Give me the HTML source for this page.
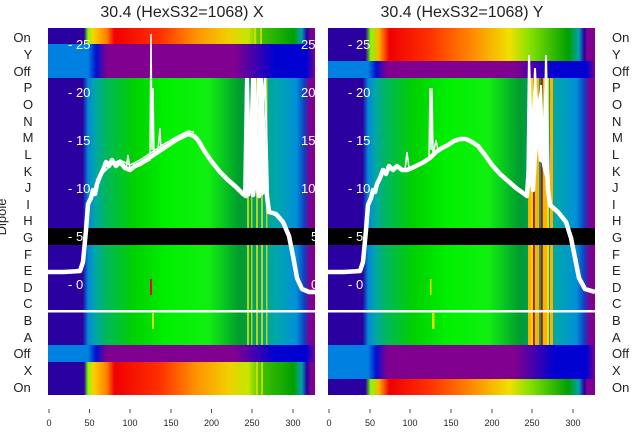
<!DOCTYPE html>
<html><head><meta charset="utf-8"><style>
html,body{margin:0;padding:0;background:#fff;width:640px;height:440px;overflow:hidden}
svg text{font-family:"Liberation Sans","DejaVu Sans",sans-serif}
</style></head><body>
<svg width="640" height="440" viewBox="0 0 640 440" xmlns="http://www.w3.org/2000/svg">
<defs>
<linearGradient id="gG" x1="0" x2="1" y1="0" y2="0">
<stop offset="0" stop-color="#2a00a0"/><stop offset="0.13" stop-color="#2a00a0"/>
<stop offset="0.15" stop-color="#0088d8"/><stop offset="0.18" stop-color="#00a8a0"/>
<stop offset="0.22" stop-color="#00b858"/><stop offset="0.32" stop-color="#00d000"/>
<stop offset="0.45" stop-color="#00f000"/><stop offset="0.6" stop-color="#10f010"/>
<stop offset="0.72" stop-color="#009a30"/><stop offset="0.78" stop-color="#00a070"/>
<stop offset="0.85" stop-color="#00a8a8"/><stop offset="0.93" stop-color="#0090d8"/>
<stop offset="0.96" stop-color="#1040c0"/><stop offset="0.98" stop-color="#800090"/>
<stop offset="1" stop-color="#800090"/>
</linearGradient>
<linearGradient id="gO" x1="0" x2="1" y1="0" y2="0">
<stop offset="0" stop-color="#2a00a0"/><stop offset="0.135" stop-color="#2a00a0"/>
<stop offset="0.15" stop-color="#80ff00"/><stop offset="0.17" stop-color="#ffd000"/>
<stop offset="0.22" stop-color="#ff8000"/><stop offset="0.25" stop-color="#f00000"/>
<stop offset="0.42" stop-color="#ff3000"/><stop offset="0.55" stop-color="#ff9000"/>
<stop offset="0.68" stop-color="#f0d000"/><stop offset="0.75" stop-color="#c0e800"/>
<stop offset="0.8" stop-color="#40c000"/><stop offset="0.92" stop-color="#00a000"/>
<stop offset="0.95" stop-color="#00a0b0"/><stop offset="0.97" stop-color="#2a00a0"/>
<stop offset="0.985" stop-color="#800090"/><stop offset="1" stop-color="#800090"/>
</linearGradient>
<linearGradient id="gP" x1="0" x2="1" y1="0" y2="0">
<stop offset="0" stop-color="#0080e0"/><stop offset="0.15" stop-color="#0080e0"/>
<stop offset="0.18" stop-color="#0010d0"/><stop offset="0.22" stop-color="#800090"/>
<stop offset="0.7" stop-color="#800090"/><stop offset="0.85" stop-color="#0000d0"/>
<stop offset="0.97" stop-color="#0000d0"/><stop offset="1" stop-color="#800090"/>
</linearGradient>
<linearGradient id="gO2" x1="0" x2="1" y1="0" y2="0">
<stop offset="0" stop-color="#2a00a0"/><stop offset="0.14" stop-color="#2a00a0"/>
<stop offset="0.16" stop-color="#80ff00"/><stop offset="0.19" stop-color="#ffb000"/>
<stop offset="0.23" stop-color="#f00000"/><stop offset="0.38" stop-color="#ff3000"/>
<stop offset="0.55" stop-color="#ff9000"/><stop offset="0.68" stop-color="#f0e000"/>
<stop offset="0.76" stop-color="#80e000"/><stop offset="0.9" stop-color="#00a000"/>
<stop offset="0.94" stop-color="#00a0b0"/><stop offset="0.96" stop-color="#2a00a0"/>
<stop offset="0.97" stop-color="#800090"/><stop offset="1" stop-color="#800090"/>
</linearGradient>
</defs>

<!-- Left panel -->
<g>
<rect x="48" y="28" width="267" height="367" fill="url(#gG)"/>
<rect x="48" y="28" width="267" height="16" fill="url(#gO)"/>
<rect x="48" y="44" width="267" height="34" fill="url(#gP)"/>
<rect x="48" y="345" width="267" height="17" fill="url(#gP)"/>
<rect x="48" y="362" width="267" height="33" fill="url(#gO)"/>
<g fill="#d8e000" opacity="0.85">
<rect x="247" y="28" width="2" height="16"/><rect x="254" y="28" width="2" height="16"/><rect x="260" y="28" width="2" height="16"/>
<rect x="247" y="78" width="2" height="267"/><rect x="251" y="78" width="1.5" height="267"/><rect x="256" y="78" width="2" height="267"/><rect x="261" y="78" width="2" height="267"/><rect x="266" y="78" width="1.5" height="267"/>
<rect x="247" y="362" width="2" height="33"/><rect x="256" y="362" width="2" height="33"/><rect x="261" y="362" width="2" height="33"/>
</g>
<rect x="150" y="279" width="2" height="16" fill="#f00000"/>
<rect x="152" y="313" width="2" height="16" fill="#e0e000"/>
<rect x="48" y="228" width="267" height="17" fill="#000"/>
<rect x="48" y="310" width="267" height="2.5" fill="#fff"/>
<polyline fill="none" stroke="#fff" stroke-width="4.5" stroke-linejoin="round" points="48,272 64,272 80,271 83,262 86,230 88,204 91,198 93,190 95,194 97,184 100,176 103,170 106,162 109,166 112,160 116,166 120,162 125,168 130,170 135,166 140,164 146,160 152,156 158,152 164,148 170,144 176,140 182,137 188,134 194,136 198,140 205,152 212,162 220,172 228,180 236,187 243,194 246,196 250,140 253,195 256,170 259,196 263,140 267,196 269,212 276,214 283,222 289,236 293,256 297,278 302,289 309,292 315,292"/>
<polyline fill="none" stroke="#fff" stroke-width="1.5" stroke-linejoin="round" points="96,180 104,172 112,164 120,160 130,165 140,160 152,152 164,144 176,137 188,131 194,132"/>
<polyline fill="none" stroke="#fff" stroke-width="1.5" points="126,170 128,155 130,170 150,160 151,34 152,150 153,88 154,155 158,150 160,128 161,152"/>
<g fill="#fff"><polygon points="244,198 245,78 249,78 250,120 253,78 256,78 257,140 259,78 263,78 265,120 266,150 268,190 262,196 255,175 250,196"/></g>
<polyline fill="none" stroke="#fff" stroke-width="2" points="244,195 246,78 249,180 252,78 255,170 258,78 262,120 265,78 268,190"/>
<g fill="#fff" font-size="13">
<text x="68" y="49">- 25</text><text x="68" y="97">- 20</text><text x="68" y="145">- 15</text>
<text x="68" y="193">- 10</text><text x="68" y="241">- 5</text><text x="68" y="289">- 0</text>
<text x="301" y="49">25</text><text x="301" y="97">20</text><text x="301" y="145">15</text>
<text x="301" y="193">10</text><text x="311" y="241">5</text><text x="311" y="289">0</text>
</g>
</g>
<rect x="315" y="20" width="13" height="380" fill="#fff"/>

<!-- Right panel -->
<g>
<rect x="328" y="28" width="267" height="367" fill="url(#gG)"/>
<rect x="328" y="28" width="267" height="33" fill="url(#gO2)"/>
<rect x="328" y="61" width="267" height="17" fill="url(#gP)"/>
<rect x="328" y="345" width="267" height="34" fill="url(#gP)"/>
<rect x="328" y="379" width="267" height="16" fill="url(#gO2)"/>
<g fill="#ffb000">
<rect x="528" y="78" width="3" height="267"/><rect x="535" y="78" width="4" height="267"/><rect x="543" y="78" width="4" height="267"/><rect x="550" y="78" width="3" height="267"/>
</g>
<g fill="#f0e000"><rect x="531" y="78" width="2" height="267"/><rect x="547" y="78" width="2" height="267"/></g>
<g fill="#e00000"><rect x="533" y="78" width="1.5" height="267"/><rect x="541" y="78" width="1.5" height="267"/></g>
<rect x="430" y="279" width="1.5" height="16" fill="#e0e000"/>
<rect x="432" y="313" width="2.5" height="16" fill="#e0e000"/>
<rect x="328" y="228" width="267" height="17" fill="#000"/>
<rect x="328" y="310" width="267" height="2.5" fill="#fff"/>
<polyline fill="none" stroke="#fff" stroke-width="4.5" stroke-linejoin="round" points="328,272 344,272 360,271 363,262 366,230 368,205 371,198 373,190 375,192 377,184 380,178 383,170 386,174 389,166 393,170 397,166 402,170 407,170 412,168 418,165 424,162 430,158 436,152 442,148 448,145 454,141 460,139 466,139 472,142 478,146 485,155 492,165 500,174 508,181 516,188 523,193 527,196 530,150 533,190 537,120 541,160 545,120 548,190 550,205 558,212 566,222 571,238 575,258 579,278 585,289 595,292"/>
<polyline fill="none" stroke="#fff" stroke-width="1.5" points="405,170 407,152 409,168 429,160 430,88 431,150 432,88 433,155 436,140 438,150"/>
<g fill="#fff"><polygon points="527,198 529,55 532,110 535,68 538,100 541,85 543,120 546,55 548,150 549,190 543,170 537,140 532,180"/></g>
<polyline fill="none" stroke="#fff" stroke-width="2" points="527,195 529,55 532,150 535,68 538,140 541,85 544,170 546,55 549,190"/>
<g fill="#fff" font-size="13">
<text x="348" y="49">- 25</text><text x="348" y="97">- 20</text><text x="348" y="145">- 15</text>
<text x="348" y="193">- 10</text><text x="348" y="241">- 5</text><text x="348" y="289">- 0</text>
</g>
</g>

<!-- titles -->
<g font-size="16" fill="#222" text-anchor="middle">
<text x="182" y="17">30.4 (HexS32=1068) X</text>
<text x="462" y="17">30.4 (HexS32=1068) Y</text>
</g>

<!-- row labels -->
<g font-size="13" fill="#222" text-anchor="middle">
<text x="22" y="42">On</text><text x="28" y="59">Y</text><text x="22" y="76">Off</text>
<text x="28" y="92">P</text><text x="28" y="109">O</text><text x="28" y="126">N</text>
<text x="28" y="142">M</text><text x="28" y="159">L</text><text x="28" y="176">K</text>
<text x="28" y="192">J</text><text x="28" y="209">I</text><text x="28" y="225">H</text>
<text x="28" y="242">G</text><text x="28" y="259">F</text><text x="28" y="275">E</text>
<text x="28" y="292">D</text><text x="28" y="308">C</text><text x="28" y="325">B</text>
<text x="28" y="342">A</text><text x="22" y="358">Off</text><text x="28" y="375">X</text>
<text x="22" y="392">On</text>
</g>
<text x="6" y="217" font-size="13" fill="#222" text-anchor="middle" transform="rotate(-90 6 217)">Dipole</text>
<g font-size="13" fill="#222">
<text x="612" y="42">On</text><text x="612" y="59">Y</text><text x="612" y="76">Off</text>
<text x="612" y="92">P</text><text x="612" y="109">O</text><text x="612" y="126">N</text>
<text x="612" y="142">M</text><text x="612" y="159">L</text><text x="612" y="176">K</text>
<text x="612" y="192">J</text><text x="612" y="209">I</text><text x="612" y="225">H</text>
<text x="612" y="242">G</text><text x="612" y="259">F</text><text x="612" y="275">E</text>
<text x="612" y="292">D</text><text x="612" y="308">C</text><text x="612" y="325">B</text>
<text x="612" y="342">A</text><text x="612" y="358">Off</text><text x="612" y="375">X</text>
<text x="612" y="392">On</text>
</g>

<!-- x ticks -->
<g stroke="#222" stroke-width="0.8">
<line x1="49" y1="409" x2="49" y2="413"/><line x1="89.5" y1="409" x2="89.5" y2="413"/><line x1="130" y1="409" x2="130" y2="413"/><line x1="171" y1="409" x2="171" y2="413"/><line x1="211.5" y1="409" x2="211.5" y2="413"/><line x1="252" y1="409" x2="252" y2="413"/><line x1="293" y1="409" x2="293" y2="413"/>
<line x1="329" y1="409" x2="329" y2="413"/><line x1="370" y1="409" x2="370" y2="413"/><line x1="410" y1="409" x2="410" y2="413"/><line x1="451" y1="409" x2="451" y2="413"/><line x1="492" y1="409" x2="492" y2="413"/><line x1="532" y1="409" x2="532" y2="413"/><line x1="573" y1="409" x2="573" y2="413"/>
</g>
<g font-size="9" fill="#222" text-anchor="middle">
<text x="49" y="426">0</text><text x="89.5" y="426">50</text><text x="130" y="426">100</text><text x="171" y="426">150</text><text x="211.5" y="426">200</text><text x="252" y="426">250</text><text x="293" y="426">300</text>
<text x="329" y="426">0</text><text x="370" y="426">50</text><text x="410" y="426">100</text><text x="451" y="426">150</text><text x="492" y="426">200</text><text x="532" y="426">250</text><text x="573" y="426">300</text>
</g>
</svg>
</body></html>
